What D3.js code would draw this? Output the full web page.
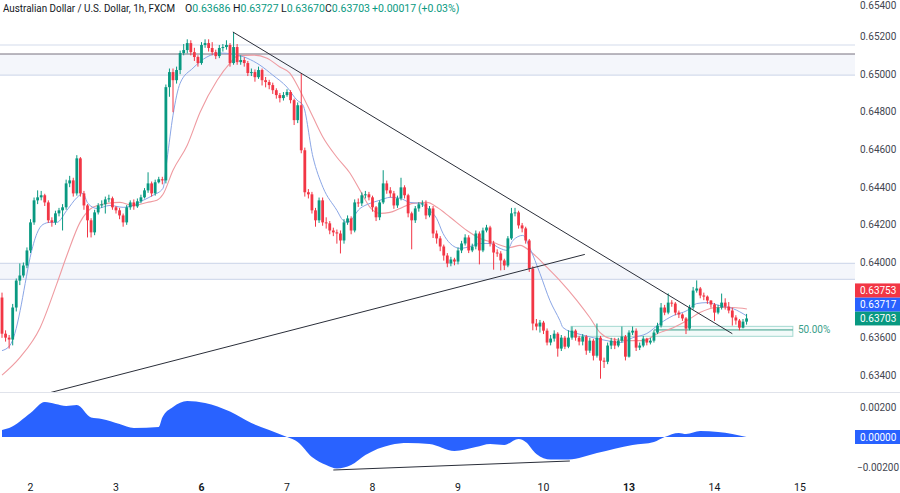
<!DOCTYPE html>
<html><head><meta charset="utf-8">
<script src="https://cdn.jsdelivr.net/npm/d3@7"></script>
<style>body{margin:0;background:#fff;} svg{display:block;font-family:Roboto,"Noto Sans",sans-serif;}</style>
</head><body><svg id="c" width="900" height="493"></svg>
<script>
// ---- data ----
const firstOpen = 0.63814;
const closes = [
.63622,.63601,.63591,.63761,.63904,.63931,.63984,.64064,.64213,.64330,
.64346,.64357,.64319,.64224,.64213,.64261,.64277,.64293,.64420,.64436,
.64367,.64553,.64367,.64303,.64224,.64160,.64266,.64303,.64309,.64335,
.64341,.64293,.64277,.64250,.64213,.64293,.64319,.64298,.64325,.64346,
.64383,.64420,.64367,.64426,.64442,.64436,.64931,.65011,.64968,.65022,
.65112,.65128,.65165,.65117,.65091,.65059,.65155,.65165,.65139,.65117,
.65096,.65139,.65144,.65155,.65059,.65144,.65064,.65075,.65059,.65006,
.65011,.64984,.65022,.64968,.64958,.64942,.64915,.64889,.64873,.64889,
.64905,.64862,.64756,.64835,.64596,.64373,.64362,.64277,.64224,.64330,
.64213,.64208,.64170,.64160,.64154,.64117,.64213,.64234,.64170,.64319,
.64314,.64357,.64362,.64346,.64293,.64240,.64319,.64420,.64383,.64367,
.64303,.64341,.64399,.64357,.64261,.64224,.64287,.64309,.64314,.64250,
.64287,.64154,.64128,.64085,.64037,.63995,.64016,.64005,.64064,.64101,
.64133,.64064,.64085,.64154,.64064,.64170,.64186,.64101,.64053,.64048,
.64011,.63984,.64128,.64261,.64266,.64197,.64181,.64117,.63968,.63676,
.63660,.63681,.63638,.63575,.63596,.63622,.63543,.63601,.63553,.63601,
.63638,.63601,.63580,.63607,.63532,.63585,.63505,.63601,.63479,.63473,
.63559,.63585,.63559,.63585,.63607,.63500,.63628,.63638,.63548,.63559,
.63596,.63575,.63585,.63628,.63665,.63761,.63734,.63787,.63782,.63734,
.63724,.63703,.63649,.63761,.63851,.63862,.63825,.63819,.63798,.63777,
.63734,.63761,.63787,.63766,.63745,.63708,.63692,.63654,.63686,.63703];
const highs = [
.63840,.63640,.63615,.63780,.63915,.63995,.64000,.64080,.64230,.64345,
.64383,.64380,.64365,.64330,.64240,.64275,.64290,.64310,.64440,.64460,
.64450,.64570,.64560,.64380,.64310,.64235,.64280,.64315,.64330,.64350,
.64360,.64350,.64300,.64290,.64260,.64305,.64330,.64335,.64340,.64360,
.64395,.64479,.64430,.64440,.64455,.64455,.64945,.65030,.65030,.65040,
.65125,.65160,.65185,.65180,.65140,.65100,.65170,.65185,.65185,.65170,
.65130,.65155,.65160,.65180,.65165,.65224,.65160,.65100,.65090,.65070,
.65030,.65025,.65040,.65030,.64985,.64970,.64955,.64925,.64900,.64905,
.64920,.64915,.64870,.64850,.65006,.64610,.64390,.64375,.64290,.64345,
.64345,.64240,.64220,.64185,.64175,.64170,.64230,.64250,.64245,.64335,
.64340,.64372,.64380,.64375,.64355,.64300,.64330,.64490,.64435,.64400,
.64380,.64355,.64450,.64410,.64365,.64270,.64300,.64320,.64330,.64330,
.64300,.64300,.64170,.64140,.64095,.64050,.64030,.64025,.64080,.64115,
.64150,.64145,.64100,.64170,.64165,.64185,.64200,.64195,.64115,.64070,
.64060,.64020,.64140,.64290,.64290,.64275,.64210,.64190,.64125,.63980,
.63700,.63695,.63690,.63650,.63615,.63640,.63630,.63615,.63610,.63640,
.63660,.63645,.63610,.63620,.63615,.63600,.63595,.63676,.63610,.63495,
.63575,.63600,.63600,.63600,.63660,.63615,.63640,.63660,.63650,.63575,
.63610,.63600,.63600,.63640,.63680,.63785,.63775,.63836,.63800,.63790,
.63745,.63730,.63710,.63775,.63870,.63905,.63870,.63840,.63825,.63800,
.63785,.63775,.63835,.63810,.63790,.63760,.63720,.63700,.63700,.63727];
const lows = [
.63600,.63580,.63543,.63560,.63740,.63880,.63920,.63970,.64050,.64200,
.64310,.64330,.64300,.64210,.64190,.64200,.64245,.64170,.64280,.64400,
.64350,.64355,.64350,.64280,.64133,.64133,.64145,.64255,.64290,.64260,
.64320,.64280,.64260,.64230,.64190,.64200,.64280,.64280,.64290,.64315,
.64340,.64370,.64350,.64355,.64420,.64415,.64420,.64880,.64798,.64950,
.65000,.65100,.65110,.65100,.65070,.65040,.65050,.65140,.65120,.65100,
.65080,.65085,.65120,.65130,.65040,.65050,.65050,.65050,.65040,.64990,
.64990,.64960,.64975,.64940,.64930,.64920,.64895,.64870,.64850,.64860,
.64880,.64845,.64730,.64740,.64580,.64350,.64340,.64260,.64190,.64210,
.64195,.64180,.64150,.64140,.64100,.64048,.64100,.64200,.64150,.64160,
.64295,.64300,.64340,.64330,.64270,.64220,.64225,.64310,.64365,.64345,
.64285,.64290,.64330,.64340,.64240,.64070,.64210,.64270,.64295,.64230,
.64240,.64130,.64100,.64060,.64010,.63975,.63980,.63985,.63990,.64050,
.64090,.64050,.64055,.64070,.63990,.64055,.64160,.64085,.63962,.64030,
.63958,.63960,.63975,.64120,.64245,.64180,.64160,.64100,.63950,.63640,
.63640,.63628,.63620,.63560,.63560,.63580,.63500,.63530,.63540,.63545,
.63590,.63585,.63560,.63560,.63510,.63520,.63480,.63495,.63383,.63440,
.63460,.63540,.63540,.63550,.63575,.63480,.63495,.63615,.63530,.63535,
.63550,.63560,.63565,.63575,.63620,.63655,.63720,.63725,.63765,.63720,
.63705,.63690,.63620,.63640,.63750,.63840,.63810,.63800,.63780,.63760,
.63690,.63725,.63750,.63750,.63730,.63665,.63670,.63640,.63650,.63670];
// moving-average lines: [bar index, price]
const fastMA = [[0,0.63532],[2.2,0.63559],[3.6,0.63623],[5.1,0.63745],[6.5,0.63888],[7.9,0.64027],[9.8,0.64154],[11.5,0.64202],[13.5,0.64213],[15.4,0.64213],[18.2,0.64277],[21.1,0.64346],[22.7,0.64367],[24.1,0.64314],[26.7,0.64287],[30.3,0.64303],[34,0.64293],[36.8,0.64303],[39.6,0.64330],[42.4,0.64357],[45.2,0.64394],[46.3,0.64543],[48,0.64782],[50,0.64952],[53.6,0.65032],[57.5,0.65091],[61.2,0.65112],[64.8,0.65107],[68.8,0.65085],[72.4,0.65048],[76,0.64995],[80,0.64931],[82.8,0.64862],[84.5,0.64835],[87.3,0.64559],[90.1,0.64399],[94,0.64277],[95.7,0.64224],[97,0.64213],[100.5,0.64287],[103.3,0.64314],[106,0.64330],[109,0.64346],[111.7,0.64341],[114.5,0.64319],[117.3,0.64314],[120,0.64277],[122,0.64234],[123.8,0.64154],[125.8,0.64101],[128.6,0.64075],[131.4,0.64085],[134.2,0.64101],[137,0.64101],[139.8,0.64075],[141.8,0.64064],[143.4,0.64117],[146.2,0.64144],[148.2,0.64075],[151,0.63942],[153.8,0.63798],[156.6,0.63692],[157.5,0.63654],[161.4,0.63623],[165.9,0.63601],[169.8,0.63585],[173.5,0.63575],[177.1,0.63601],[181,0.63623],[184.7,0.63676],[188.4,0.63718],[192.3,0.63745],[195,0.63782],[198,0.63787],[201.5,0.63771],[205.2,0.63755],[209,0.63717]];
const slowMA = [[0,0.63402],[5,0.63495],[10.7,0.63654],[15.4,0.63888],[18.2,0.64037],[21.9,0.64213],[25.5,0.64293],[29.5,0.64314],[33.1,0.64319],[36.8,0.64303],[40.7,0.64319],[43.5,0.64330],[45.2,0.64362],[48,0.64490],[52,0.64623],[55.6,0.64798],[60.4,0.64968],[64,0.65059],[66,0.65096],[70.5,0.65101],[74.4,0.65085],[78,0.65038],[80.8,0.65006],[83.6,0.64915],[87.3,0.64772],[90.1,0.64665],[94,0.64559],[97.7,0.64474],[100.5,0.64383],[103.3,0.64293],[106.1,0.64261],[108.9,0.64266],[111.7,0.64287],[115.4,0.64314],[119.3,0.64319],[122.1,0.64293],[125.8,0.64240],[130.5,0.64170],[134.2,0.64128],[137.8,0.64107],[142.6,0.64080],[145.4,0.64091],[149,0.64048],[153,0.63974],[156.6,0.63904],[161.4,0.63798],[165,0.63708],[167.9,0.63628],[170.7,0.63596],[175.4,0.63585],[180,0.63585],[183.9,0.63622],[188.4,0.63654],[192.3,0.63692],[195.9,0.63734],[200.7,0.63761],[205.2,0.63761],[209.1,0.63753]];
const oscillator = [[0,0.00047],[2,0.0006],[8,0.0016],[12,0.00233],[15,0.0022],[18,0.00207],[21,0.00213],[25,0.0013],[28,0.0012],[33,0.00087],[37,0.0006],[44,0.00067],[45,0.0013],[48,0.002],[52,0.0024],[57,0.00227],[64,0.0017],[70,0.00093],[75,0.00047],[80,0],[83,-0.00033],[87,-0.00133],[91,-0.00187],[94,-0.0021],[98,-0.00187],[102,-0.0012],[109,-0.00053],[114,-0.0004],[120,-0.00047],[127,-0.00093],[133,-0.00067],[137,-0.00047],[141,-0.00053],[145,-0.00013],[147,-0.00033],[150,-0.00113],[154,-0.0015],[159,-0.0015],[167,-0.00107],[177,-0.00053],[183,-0.00033],[186,0],[190,0.00027],[192,0.0002],[196,0.0004],[201,0.00033],[205,0.0002],[209,0]];
const dayTicks = [8,32,56,80,104,128,152,176,200,224];
const dayLabels = ["2","3","6","7","8","9","10","13","14","15"];
const boldDays = ["6","13"];
const priceTicks = [0.654,0.652,0.650,0.648,0.646,0.644,0.642,0.640,0.636,0.634];
const oscTicks = [0.002,0,-0.002];
const zoneUpper = [0.65107,0.64995];
const zoneUpperLine = 0.65155;
const zoneMiddle = [0.63995,0.63910];
const fibBox = {i0:159.7, i1:222, top:0.63661, bottom:0.63608, level:0.63642, lineFrom:183, label:"50.00%"};
const trendLines = [[[64.8,0.65224],[205,0.63622]],[[13.5,0.63309],[163.6,0.64043]]];
const oscTrend = [[93,-0.0022],[159.4,-0.0016]];
const tags = [{t:"0.63753",c:"#F23645"},{t:"0.63717",c:"#2962FF"},{t:"0.63703",c:"#089981"}];
const lastClose = 0.63703;
const title = "Australian Dollar / U.S. Dollar, 1h, FXCM";
const ohlc = [["O","0.63686",185],["H","0.63727",233],["L","0.63670",281],["C","0.63703",325]];
const change = [["+0.00017",372],["(+0.03%)",418]];

// ---- drawing ----
const svg = d3.select("#c");
const W = 900, H = 493, plotR = 855, paneB = 392;
const x = d3.scaleLinear().domain([0,224]).range([2,800]);
const y = d3.scaleLinear().domain([0.634,0.652]).range([375.5,36.5]);
const yo = d3.scaleLinear().domain([-0.002,0.002]).range([467,407]);
const UP = "#089981", DN = "#F23645";

svg.append("defs").append("clipPath").attr("id","mainclip").append("rect").attr("x",0).attr("y",0).attr("width",plotR).attr("height",paneB);
const main = svg.append("g").attr("clip-path","url(#mainclip)");

// zones
main.append("rect").attr("x",0).attr("width",plotR).attr("y",y(zoneUpper[0])).attr("height",y(zoneUpper[1])-y(zoneUpper[0])).attr("fill","#f4f6fb");
main.append("line").attr("x1",0).attr("x2",plotR).attr("y1",y(zoneUpperLine)).attr("y2",y(zoneUpperLine)).attr("stroke","#d3dbec").attr("stroke-width",1.2);
main.append("line").attr("x1",0).attr("x2",plotR).attr("y1",y(zoneUpper[1])).attr("y2",y(zoneUpper[1])).attr("stroke","#d3dbec").attr("stroke-width",1.2);
main.append("line").attr("x1",0).attr("x2",plotR).attr("y1",y(zoneUpper[0])).attr("y2",y(zoneUpper[0])).attr("stroke","#76707f").attr("stroke-width",1);
main.append("rect").attr("x",0).attr("width",plotR).attr("y",y(zoneMiddle[0])).attr("height",y(zoneMiddle[1])-y(zoneMiddle[0])).attr("fill","#f4f6fb");
zoneMiddle.forEach(v=>main.append("line").attr("x1",0).attr("x2",plotR).attr("y1",y(v)).attr("y2",y(v)).attr("stroke","#d3dbec").attr("stroke-width",1.2));

// fib box
main.append("rect").attr("x",x(fibBox.i0)).attr("width",x(fibBox.i1)-x(fibBox.i0)).attr("y",y(fibBox.top)).attr("height",y(fibBox.bottom)-y(fibBox.top))
  .attr("fill","rgba(8,153,129,0.05)").attr("stroke","rgba(8,153,129,0.35)").attr("stroke-width",1);
main.append("line").attr("x1",x(fibBox.lineFrom)).attr("x2",x(fibBox.i1)).attr("y1",y(fibBox.level)).attr("y2",y(fibBox.level)).attr("stroke","#3a9e8a").attr("stroke-width",1);
svg.append("text").attr("x",x(fibBox.i1)+5).attr("y",y(fibBox.level)+3.5).attr("font-size",10).attr("fill","#3a9e8a").text(fibBox.label);

// MAs
const line = d3.line().x(d=>x(d[0])).y(d=>y(d[1])).curve(d3.curveMonotoneX);
main.append("path").attr("d",line(slowMA)).attr("fill","none").attr("stroke","#ef9ba1").attr("stroke-width",1.1);
main.append("path").attr("d",line(fastMA)).attr("fill","none").attr("stroke","#8aa6e6").attr("stroke-width",1);

// candles
const bars = closes.map((c,i)=>({i, o: i===0?firstOpen:closes[i-1], c, h:highs[i], l:lows[i]}));
const cg = main.append("g");
cg.selectAll("line.w").data(bars).join("line").attr("class","w")
  .attr("x1",d=>x(d.i)).attr("x2",d=>x(d.i))
  .attr("y1",d=>y(Math.max(d.h,d.o,d.c))).attr("y2",d=>y(Math.min(d.l,d.o,d.c)))
  .attr("stroke",d=>d.c>=d.o?UP:DN).attr("stroke-width",1);
cg.selectAll("rect.b").data(bars).join("rect").attr("class","b")
  .attr("x",d=>x(d.i)-1.4).attr("width",2.8)
  .attr("y",d=>y(Math.max(d.o,d.c))).attr("height",d=>Math.max(1,Math.abs(y(d.o)-y(d.c))))
  .attr("fill",d=>d.c>=d.o?UP:DN);

// trend lines
trendLines.forEach(t=>main.append("line").attr("x1",x(t[0][0])).attr("y1",y(t[0][1])).attr("x2",x(t[1][0])).attr("y2",y(t[1][1])).attr("stroke","#2a2e39").attr("stroke-width",1));

// pane separator
svg.append("line").attr("x1",0).attr("x2",W).attr("y1",paneB+0.5).attr("y2",paneB+0.5).attr("stroke","#e0e3eb");

// oscillator
const area = d3.area().x(d=>x(d[0])).y0(yo(0)).y1(d=>yo(d[1])).curve(d3.curveMonotoneX);
svg.append("path").attr("d",area(oscillator)).attr("fill","#2962FF");
svg.append("line").attr("x1",x(oscTrend[0][0])).attr("y1",yo(oscTrend[0][1])).attr("x2",x(oscTrend[1][0])).attr("y2",yo(oscTrend[1][1])).attr("stroke","#2a2e39").attr("stroke-width",1);

// price axis labels (top label nudged down so it stays inside the picture)
const fmt = d3.format(".5f");
svg.selectAll("text.pt").data(priceTicks).join("text").attr("class","pt")
  .attr("x",860).attr("y",d=>Math.max(y(d)+3.5,9)).attr("font-size",10).attr("fill","#434651").text(d=>fmt(d));
svg.selectAll("text.ot").data(oscTicks).join("text").attr("class","ot")
  .attr("x",d=>d<0?857:860).attr("y",d=>yo(d)+3.5).attr("font-size",10).attr("fill","#434651").text(d=>fmt(d));

// price tags (stacked upward from the last close)
const tagH = 14;
const baseY = y(lastClose);
tags.slice().reverse().forEach((t,k)=>{
  const cy = baseY - k*tagH;
  svg.append("rect").attr("x",855).attr("y",cy-tagH/2).attr("width",45).attr("height",tagH).attr("fill",t.c);
  svg.append("text").attr("x",860).attr("y",cy+3.5).attr("font-size",10).attr("fill","#fff").text(t.t);
});
svg.append("rect").attr("x",855).attr("y",yo(0)-7).attr("width",45).attr("height",14).attr("fill","#2962FF");
svg.append("text").attr("x",860).attr("y",yo(0)+3.5).attr("font-size",10).attr("fill","#fff").text(fmt(0));

// time axis
svg.selectAll("text.dt").data(dayTicks).join("text").attr("class","dt")
  .attr("x",d=>x(d)).attr("y",491).attr("text-anchor","middle").attr("font-size",10.5)
  .attr("font-weight",(d,i)=>boldDays.includes(dayLabels[i])?"bold":"normal")
  .attr("fill","#131722").text((d,i)=>dayLabels[i]);

// header
svg.append("text").attr("x",3).attr("y",12).attr("font-size",10.5).attr("fill","#131722")
  .attr("textLength",172).attr("lengthAdjust","spacingAndGlyphs").text(title);
ohlc.forEach(([k,v,px])=>{
  const t = svg.append("text").attr("x",px).attr("y",12).attr("font-size",10.5);
  t.append("tspan").attr("fill","#131722").text(k);
  t.append("tspan").attr("fill","#089981").text(v);
});
change.forEach(([v,px])=>svg.append("text").attr("x",px).attr("y",12).attr("font-size",10.5).attr("fill","#089981").text(v));
</script></body></html>
